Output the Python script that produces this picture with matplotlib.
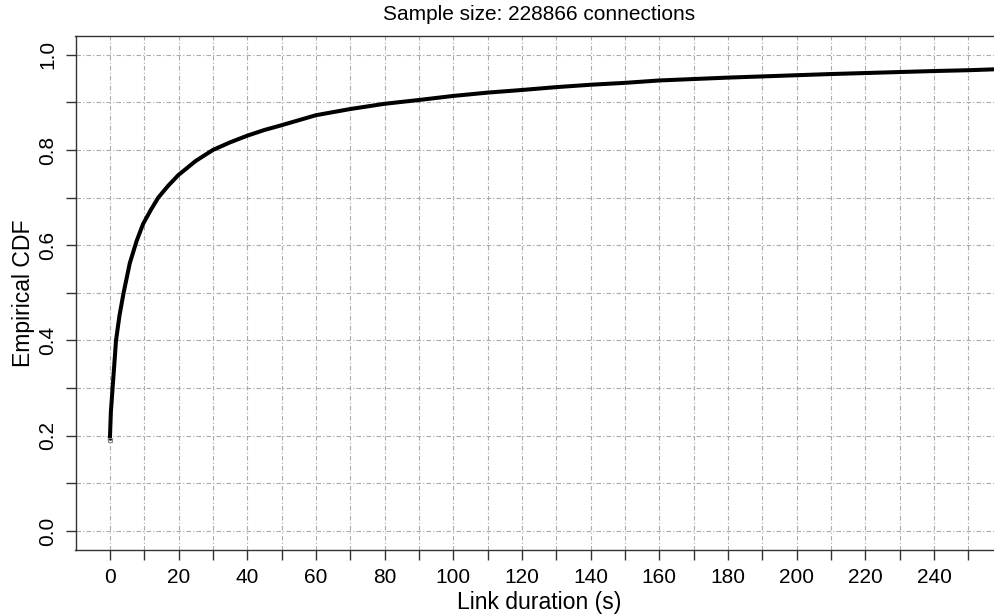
import matplotlib
matplotlib.use("Agg")
import matplotlib.pyplot as plt

# values
duration_s = [0, 0.3, 0.9, 1.8, 2.8, 4.0, 5.8, 7.8, 9.7, 12, 14.1, 17, 19.9, 25, 30,
              35, 40, 45, 50, 60, 70, 80, 90, 100, 110, 120, 130, 140, 150, 160,
              170, 180, 190, 200, 210, 220, 230, 240, 250, 260]
ecdf = [0.19, 0.25, 0.31, 0.40, 0.452, 0.50, 0.562, 0.609, 0.645, 0.675, 0.70, 0.725,
        0.747, 0.777, 0.80, 0.816, 0.830, 0.842, 0.852, 0.873, 0.886, 0.897, 0.905,
        0.9135, 0.9205, 0.926, 0.932, 0.937, 0.941, 0.946, 0.949, 0.952, 0.9545,
        0.957, 0.9595, 0.9616, 0.9637, 0.9658, 0.9675, 0.970]

x_ticks = list(range(0, 260, 10))
x_labels = [str(v) if v % 20 == 0 else "" for v in x_ticks]
y_ticks = [i / 10 for i in range(11)]
y_labels = ["%.1f" % v if i % 2 == 0 else "" for i, v in enumerate(y_ticks)]

title = "Sample size: 228866 connections"

plt.rcParams['font.family'] = ['Liberation Sans', 'DejaVu Sans']
plt.rcParams['font.size'] = 15

W, H = 995, 615
fig = plt.figure(figsize=(W / 100, H / 100), dpi=100)
left, right, top, bottom = 75.5, 1002.7, 35.7, 550
ax = fig.add_axes([left / W, 1 - bottom / H, (right - left) / W, (bottom - top) / H])

ax.plot(duration_s, ecdf, color='black', lw=2.9, solid_capstyle='butt', zorder=3)
# small grey point where the curve starts
ax.plot(duration_s[:1], ecdf[:1], 's', ms=3, mfc='none', mec='#888888', mew=0.8, zorder=4)

ax.set_xlim(-10, 260)
ax.set_ylim(-0.04, 1.04)

ax.set_xticks(x_ticks)
ax.set_xticklabels(x_labels)
ax.set_yticks(y_ticks)
ax.set_yticklabels(y_labels, rotation=90, va='center')

ax.grid(True, color='#aaaaaa', lw=0.8, linestyle=(0, (4, 2, 1, 2)), zorder=1)
ax.tick_params(direction='out', length=7.2, width=1.0, color='#333333')
ax.tick_params(axis='x', pad=6)
ax.tick_params(axis='y', pad=6)

for s in ax.spines.values():
    s.set_color('#333333')
    s.set_linewidth(1.0)

ax.set_title(title, fontsize=15, pad=11)
ax.set_xlabel("Link duration (s)", fontsize=16.6, labelpad=2.5)
ax.set_ylabel("Empirical CDF", fontsize=16.6, labelpad=2)

fig.savefig("out.png", dpi=100)
